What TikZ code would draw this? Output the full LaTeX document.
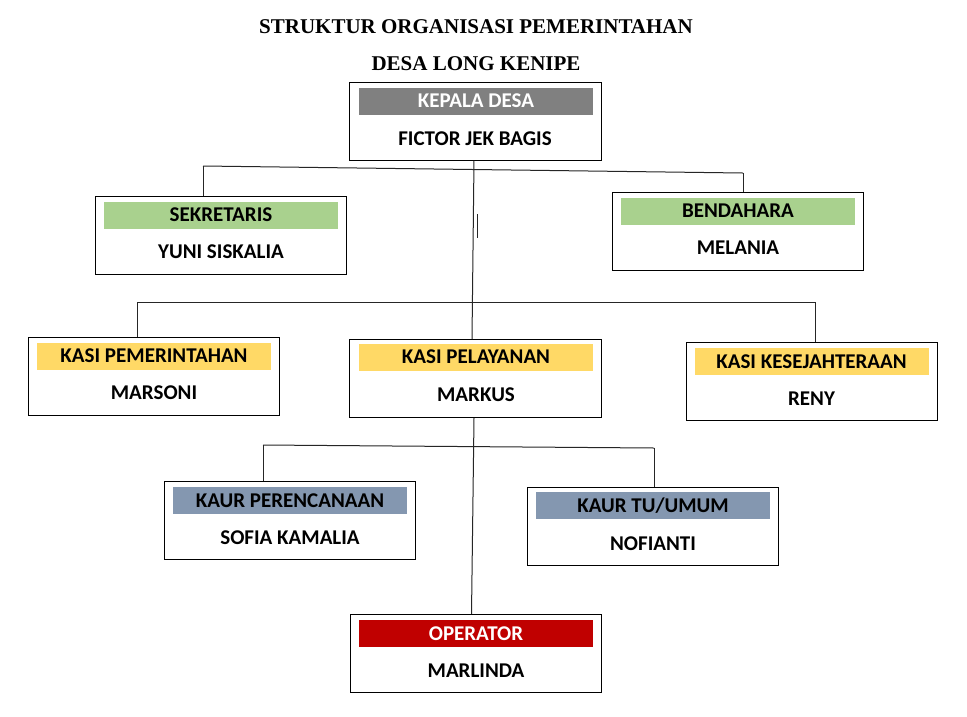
\documentclass[tikz,border=0pt]{standalone}
\usepackage{fontspec}
\setmainfont{Carlito}
\newfontfamily\titlefont{Liberation Serif}
\definecolor{hgray}{RGB}{128,128,128}
\definecolor{hgreen}{RGB}{169,209,142}
\definecolor{hyellow}{RGB}{255,217,102}
\definecolor{hblue}{RGB}{132,151,176}
\definecolor{hred}{RGB}{192,0,0}
\begin{document}
\begin{tikzpicture}[x=1pt,y=-1pt,
  box/.style={draw=black,line width=1pt,fill=white,minimum width=251pt,minimum height=78pt,inner sep=0pt},
  bar/.style={inner sep=0pt,minimum width=234pt,minimum height=27pt,font=\fontsize{21}{22}\selectfont\bfseries},
  nm/.style={inner sep=0pt,font=\fontsize{21}{22}\selectfont\bfseries},
  ttl/.style={inner sep=0pt,font=\titlefont\fontsize{21}{23}\selectfont\bfseries},
  conn/.style={draw=black!85,line width=1pt}]
\useasboundingbox (0,0) rectangle (967,716);
\fill[white] (0,0) rectangle (967,716);

% titles
\node[ttl] (t1) at (476,27) {STRUKTUR ORGANISASI PEMERINTAHAN};
\node[ttl] (t2) at (476,64) {DESA LONG KENIPE};

% Kepala Desa
\node[box,minimum width=252pt] (kd) at (475,121) {};
\node[bar,fill=hgray,text=white] (kdh) at (476,101) {KEPALA DESA};
\node[nm] (kdn) at (475,139) {FICTOR JEK BAGIS};

% Sekretaris
\node[box] (sk) at (220.5,235.5) {};
\node[bar,fill=hgreen] (skh) at (221,215) {SEKRETARIS};
\node[nm] (skn) at (221,252) {YUNI SISKALIA};

% Bendahara
\node[box] (bd) at (738,231.5) {};
\node[bar,fill=hgreen] (bdh) at (738,211) {BENDAHARA};
\node[nm] (bdn) at (738,248) {MELANIA};

% Kasi Pemerintahan
\node[box] (kp) at (154,376) {};
\node[bar,fill=hyellow] (kph) at (154,356) {KASI PEMERINTAHAN};
\node[nm] (kpn) at (154,393) {MARSONI};

% Kasi Pelayanan
\node[box,minimum width=252pt] (kl) at (475,378.5) {};
\node[bar,fill=hyellow] (klh) at (476,357) {KASI PELAYANAN};
\node[nm] (kln) at (476,395) {MARKUS};

% Kasi Kesejahteraan
\node[box] (kk) at (811.5,381.5) {};
\node[bar,fill=hyellow] (kkh) at (811.5,361.5) {KASI KESEJAHTERAAN};
\node[nm] (kkn) at (811.5,399) {RENY};

% Kaur Perencanaan
\node[box] (kr) at (289.5,520.5) {};
\node[bar,fill=hblue] (krh) at (290,500.5) {KAUR PERENCANAAN};
\node[nm] (krn) at (290,538) {SOFIA KAMALIA};

% Kaur TU/Umum
\node[box] (kt) at (653,526.5) {};
\node[bar,fill=hblue] (kth) at (653,505.5) {KAUR TU/UMUM};
\node[nm] (ktn) at (653,544) {NOFIANTI};

% Operator
\node[box] (op) at (475.5,653.5) {};
\node[bar,fill=hred,text=white] (oph) at (476,633.5) {OPERATOR};
\node[nm] (opn) at (476,671) {MARLINDA};

% junction coordinates
\coordinate (j1l) at (203,166);
\coordinate (j1r) at (743,173);
\coordinate (j2l) at (137,302);
\coordinate (j2r) at (815,302);
\coordinate (j3l) at (263,445);
\coordinate (j3r) at (654,448);
\coordinate (s1) at (477,214);
\coordinate (s2) at (477,238);

% connectors
\draw[conn] ([xshift=-1pt]kd.south) -- ([xshift=-3pt]kl.north);
\draw[conn] (j1l) -- (j1r);
\draw[conn] (j1l) -- (j1l |- sk.north);
\draw[conn] (j1r) -- (j1r |- bd.north);
\draw[conn] (s1) -- (s2);
\draw[conn] (j2l) -- (j2r);
\draw[conn] (j2l) -- (j2l |- kp.north);
\draw[conn] (j2r) -- (j2r |- kk.north);
\draw[conn] ([xshift=-1pt]kl.south) -- ([xshift=-4pt]op.north);
\draw[conn] (j3l) -- (j3r);
\draw[conn] (j3l) -- (j3l |- kr.north);
\draw[conn] (j3r) -- (j3r |- kt.north);
\end{tikzpicture}
\end{document}
